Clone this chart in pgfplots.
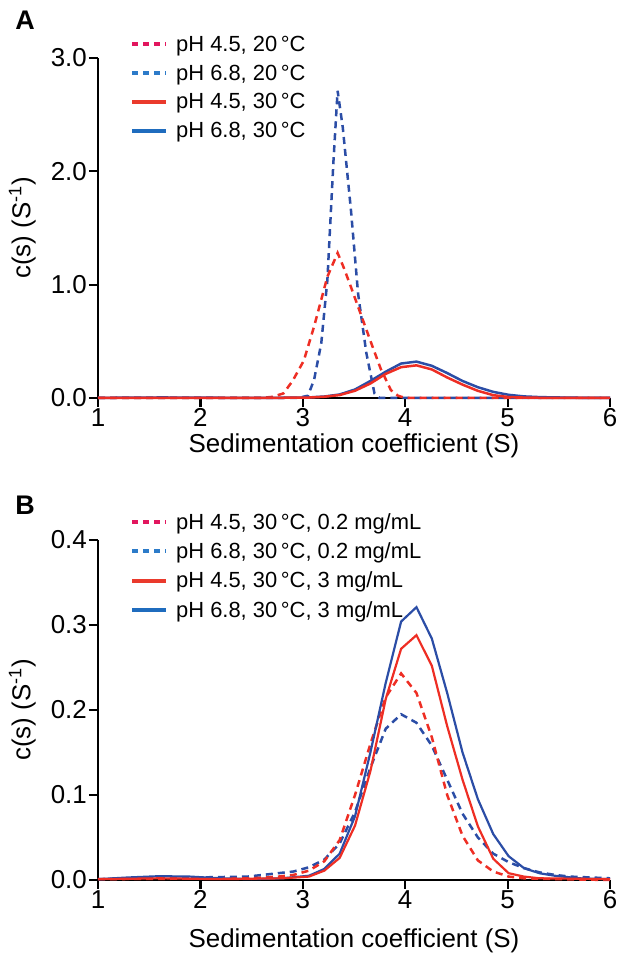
\documentclass[border=0pt]{standalone}
\usepackage{fontspec}
\setmainfont{Liberation Sans}
\usepackage{pgfplots}
\pgfplotsset{compat=1.18}
\definecolor{cred}{HTML}{EE2E24}
\definecolor{cblue}{HTML}{2B4DA6}
\definecolor{lgpink}{HTML}{E2165E}
\definecolor{lgblue}{HTML}{2C7BC9}
\definecolor{lgred}{HTML}{EA3A2C}
\definecolor{lgnavy}{HTML}{1F6CBE}

% 3 mg/mL, 30 C (used in both panels)
\pgfplotstableread{
x y
1.00 0.001
1.30 0.003
1.60 0.0045
1.90 0.004
2.20 0.002
2.50 0.001
2.80 0.002
3.06 0.005
3.21 0.013
3.36 0.031
3.51 0.075
3.66 0.150
3.81 0.232
3.96 0.304
4.11 0.321
4.26 0.284
4.41 0.220
4.56 0.150
4.71 0.095
4.86 0.054
5.01 0.028
5.16 0.014
5.31 0.008
5.46 0.005
5.70 0.002
6.00 0.001
}\bluesolid
\pgfplotstableread{
x y
1.00 0.001
1.60 0.002
2.20 0.001
2.80 0.002
3.06 0.004
3.21 0.011
3.36 0.026
3.51 0.064
3.66 0.128
3.81 0.213
3.96 0.272
4.11 0.288
4.26 0.252
4.41 0.181
4.56 0.118
4.71 0.063
4.86 0.025
5.01 0.008
5.16 0.004
5.31 0.002
6.00 0.001
}\redsolid
% 20 C
\pgfplotstableread{
x y
1.00 0
2.60 0
2.70 0.01
2.81 0.04
2.90 0.15
3.01 0.33
3.11 0.63
3.24 1.07
3.34 1.28
3.40 1.15
3.47 0.98
3.57 0.73
3.67 0.48
3.76 0.26
3.86 0.07
3.93 0.02
4.00 0
6.00 0
}\reddashA
\pgfplotstableread{
x y
1.00 0
2.95 0
3.05 0.02
3.11 0.16
3.18 0.48
3.24 1.04
3.30 2.10
3.34 2.71
3.39 2.39
3.47 1.66
3.54 0.92
3.62 0.40
3.70 0.04
3.75 0
6.00 0
}\bluedashA
% 0.2 mg/mL, 30 C
\pgfplotstableread{
x y
1.00 0.001
2.50 0.002
2.76 0.004
2.91 0.006
3.06 0.011
3.21 0.022
3.36 0.047
3.51 0.100
3.66 0.160
3.81 0.215
3.96 0.243
4.11 0.220
4.26 0.168
4.41 0.100
4.56 0.052
4.71 0.023
4.86 0.010
5.01 0.004
5.16 0.002
5.50 0.001
6.00 0
}\reddashB
\pgfplotstableread{
x y
1.00 0.001
2.46 0.004
2.61 0.006
2.76 0.008
2.91 0.010
3.06 0.015
3.21 0.024
3.36 0.043
3.51 0.080
3.66 0.132
3.81 0.178
3.96 0.195
4.11 0.185
4.26 0.158
4.41 0.118
4.56 0.078
4.71 0.050
4.86 0.031
5.01 0.021
5.16 0.014
5.31 0.009
5.46 0.006
5.61 0.004
6.00 0.002
}\bluedashB

\pgfplotsset{
  panel/.style={
    scale only axis, width=512bp, height=340bp,
    anchor=south west,
    axis x line=bottom, axis y line=left,
    axis line style={-, line width=2.6bp, black},
    tick style={line width=2.2bp, black},
    major tick length=9bp, tick align=outside,
    xmin=1, xmax=6, xtick={1,2,3,4,5,6},
    ymin=0,
    clip=false,
    tick label style={font=\fontsize{26}{30}\selectfont},
    xticklabel style={inner sep=1bp},
    yticklabel style={inner sep=2bp},
    label style={font=\fontsize{26}{30}\selectfont},
    /pgf/number format/assume math mode=true,
    yticklabel style={/pgf/number format/.cd, fixed, fixed zerofill, precision=1},
    xlabel={Sedimentation coefficient (S)},
    xlabel style={anchor=center},
    ylabel={c(s) (S\textsuperscript{-1})},
    ylabel style={at={(axis description cs:-0.148,0.5)}, anchor=center},
    legend cell align=left,
    legend style={draw=none, fill=none, anchor=north west,
      font=\fontsize{22}{26}\selectfont, row sep=8bp, inner sep=0pt,
      /tikz/every odd column/.append style={column sep=6bp}},
  },
  dashedleg/.style={legend image code/.code={\draw[line width=4bp, dash pattern=on 6bp off 5bp, ##1] (0bp,0bp) -- (34bp,0bp);}},
  solidleg/.style={legend image code/.code={\draw[line width=4bp, ##1] (0bp,0bp) -- (34bp,0bp);}},
  dashcurve/.style={line width=2.5bp, dash pattern=on 7bp off 5bp},
  solidcurve/.style={line width=2.5bp},
}

\begin{document}
\begin{tikzpicture}
\useasboundingbox (0bp,0bp) rectangle (618bp,953bp);
\node[font=\bfseries\fontsize{27}{30}\selectfont] at (25bp,933bp) {A};
\node[font=\bfseries\fontsize{27}{30}\selectfont] at (25bp,448bp) {B};

\begin{axis}[panel, at={(98bp,555bp)}, ymax=3.0, ytick={0,1,2,3},
  xlabel style={at={(axis description cs:0.5,-0.14)}},
  legend style={at={(0.0625,1.071)}}]
\addlegendimage{dashedleg, lgpink}
\addlegendentry{pH 4.5, 20\,°C}
\addlegendimage{dashedleg, lgblue}
\addlegendentry{pH 6.8, 20\,°C}
\addlegendimage{solidleg, lgred}
\addlegendentry{pH 4.5, 30\,°C}
\addlegendimage{solidleg, lgnavy}
\addlegendentry{pH 6.8, 30\,°C}
\addplot[forget plot, cblue, dashcurve] table {\bluedashA};
\addplot[forget plot, cred, dashcurve] table {\reddashA};
\addplot[forget plot, cblue, solidcurve] table {\bluesolid};
\addplot[forget plot, cred, solidcurve] table {\redsolid};
\end{axis}

\begin{axis}[panel, at={(98bp,73bp)}, ymax=0.4, ytick={0,0.1,0.2,0.3,0.4},
  xlabel style={at={(axis description cs:0.5,-0.178)}},
  legend style={at={(0.0625,1.085)}}]
\addlegendimage{dashedleg, lgpink}
\addlegendentry{pH 4.5, 30\,°C, 0.2 mg/mL}
\addlegendimage{dashedleg, lgblue}
\addlegendentry{pH 6.8, 30\,°C, 0.2 mg/mL}
\addlegendimage{solidleg, lgred}
\addlegendentry{pH 4.5, 30\,°C, 3 mg/mL}
\addlegendimage{solidleg, lgnavy}
\addlegendentry{pH 6.8, 30\,°C, 3 mg/mL}
\addplot[forget plot, cblue, dashcurve] table {\bluedashB};
\addplot[forget plot, cred, dashcurve] table {\reddashB};
\addplot[forget plot, cblue, solidcurve, line width=2.2bp] table {\bluesolid};
\addplot[forget plot, cred, solidcurve, line width=2.2bp] table {\redsolid};
\end{axis}
\end{tikzpicture}
\end{document}
